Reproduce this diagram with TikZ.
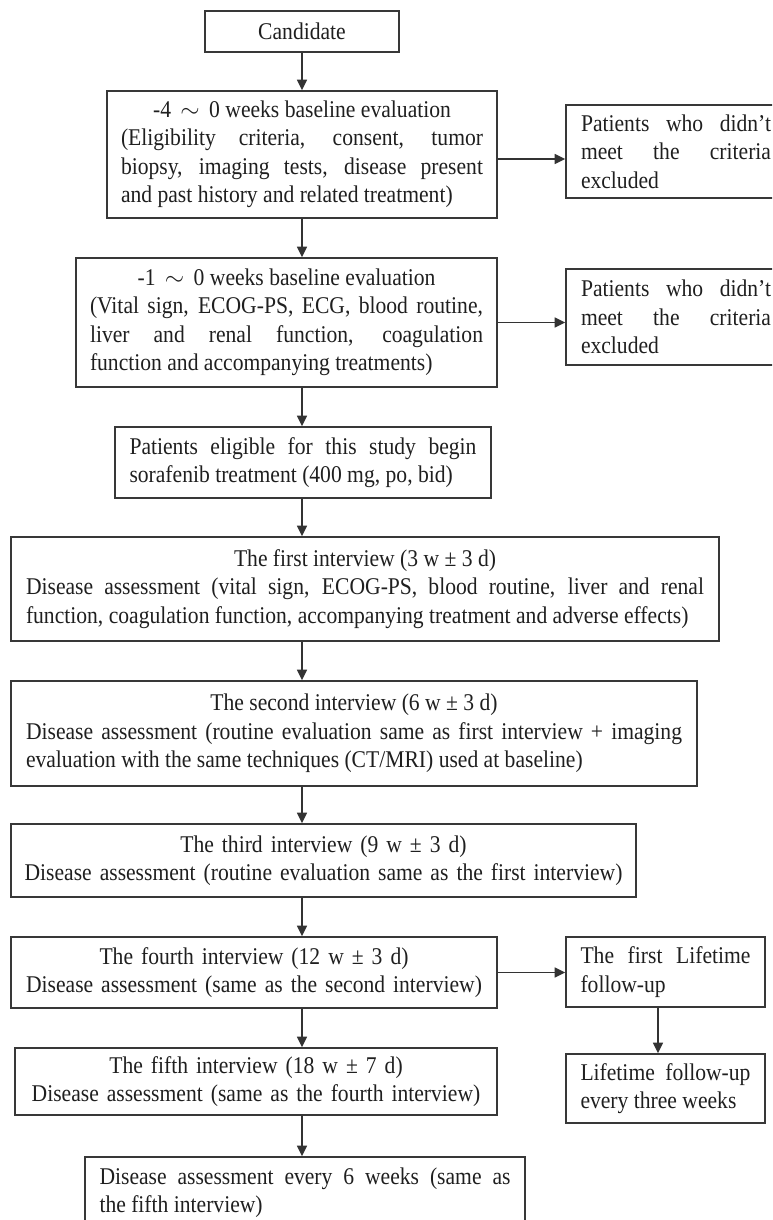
\documentclass[tikz,border=0pt]{standalone}
\usepackage{fontspec}
\setmainfont{Liberation Serif}[FakeStretch=0.9]
\usetikzlibrary{arrows.meta}
\setlength{\parindent}{0pt}
\hbadness=10000
\tolerance=10000
\hyphenpenalty=10000
\begin{document}
\begin{tikzpicture}[x=1pt,y=-1pt,
  box/.style={draw=black!78, line width=1.6pt, text=black!88, inner sep=0pt,
    font=\fontsize{24}{28.5}\selectfont, align=justify},
  cbox/.style={box, align=center},
  arr/.style={draw=black!80, line width=1.6pt, -{Triangle[length=10.5pt,width=10pt]}}]
\path[use as bounding box, clip] (0,0) rectangle (772,1220);
\coordinate (spine) at (302,0);
\coordinate (lspine) at (658,0);

\node[cbox, minimum width=194pt, minimum height=41pt, text width=180pt] (cand) at (302,31.5) {Candidate};

\node[box, minimum width=390pt, minimum height=127pt, text width=362pt] (b2) at (302,154.5)
 {{\centering -4 \,$\sim$\, 0 weeks baseline evaluation\par}(Eligibility criteria, consent, tumor\linebreak biopsy, imaging tests, disease present\linebreak and past history and related treatment)};

\node[box, minimum width=421pt, minimum height=129pt, text width=393pt] (b3) at (286.5,322.5)
 {{\centering -1 \,$\sim$\, 0 weeks baseline evaluation\par}(Vital sign, ECOG-PS, ECG, blood routine,\linebreak liver and renal function, coagulation\linebreak function and accompanying treatments)};

\node[box, minimum width=376pt, minimum height=71pt, text width=347pt] (b4) at (303,462.5)
 {Patients eligible for this study begin\linebreak sorafenib treatment (400 mg, po, bid)};

\node[box, minimum width=708pt, minimum height=104pt, text width=678pt] (b5) at (365,589)
 {{\centering The first interview (3 w ± 3 d)\par}Disease assessment (vital sign, ECOG-PS, blood routine, liver and renal\linebreak function, coagulation function, accompanying treatment and adverse effects)};

\node[box, minimum width=686pt, minimum height=105pt, text width=656pt] (b6) at (354,733.5)
 {{\centering The second interview (6 w ± 3 d)\par}Disease assessment (routine evaluation same as first interview + imaging\linebreak evaluation with the same techniques (CT/MRI) used at baseline)};

\node[cbox, minimum width=625pt, minimum height=73pt, text width=615pt] (b7) at (323.5,860.5)
 {The third interview (9 w ± 3 d)\\Disease assessment (routine evaluation same as the first interview)};

\node[cbox, minimum width=486pt, minimum height=71pt, text width=476pt] (b8) at (254,972.5)
 {The fourth interview (12 w ± 3 d)\\Disease assessment (same as the second interview)};

\node[cbox, minimum width=482pt, minimum height=67pt, text width=472pt] (b9) at (256,1081.5)
 {The fifth interview (18 w ± 7 d)\\Disease assessment (same as the fourth interview)};

\node[box, minimum width=440pt, minimum height=71pt, text width=411pt] (b10) at (305,1192.5)
 {Disease assessment every 6 weeks (same as\linebreak the fifth interview)};

\node[box, minimum width=220pt, minimum height=93pt, text width=190pt] (e1) at (676,151.5)
 {Patients who didn't\linebreak meet the criteria\linebreak excluded};

\node[box, minimum width=220pt, minimum height=96pt, text width=190pt] (e2) at (676,317)
 {Patients who didn't\linebreak meet the criteria\linebreak excluded};

\node[box, minimum width=199pt, minimum height=70pt, text width=170pt] (l1) at (665.5,972)
 {The first Lifetime\linebreak follow-up};

\node[box, minimum width=199pt, minimum height=69pt, text width=170pt] (l2) at (665.5,1088.5)
 {Lifetime follow-up\linebreak every three weeks};

\draw[arr] (cand.south -| spine) -- (b2.north -| spine);
\draw[arr] (b2.south -| spine) -- (b3.north -| spine);
\draw[arr] (b3.south -| spine) -- (b4.north -| spine);
\draw[arr] (b4.south -| spine) -- (b5.north -| spine);
\draw[arr] (b5.south -| spine) -- (b6.north -| spine);
\draw[arr] (b6.south -| spine) -- (b7.north -| spine);
\draw[arr] (b7.south -| spine) -- (b8.north -| spine);
\draw[arr] (b8.south -| spine) -- (b9.north -| spine);
\draw[arr] (b9.south -| spine) -- (b10.north -| spine);
\draw[arr] ([yshift=-4.5pt]b2.east) -- ([yshift=-4.5pt]b2.east -| e1.west);
\draw[arr] (b3.east) -- (b3.east -| e2.west);
\draw[arr] (b8.east) -- (b8.east -| l1.west);
\draw[arr] (l1.south -| lspine) -- (l2.north -| lspine);
\end{tikzpicture}
\end{document}
